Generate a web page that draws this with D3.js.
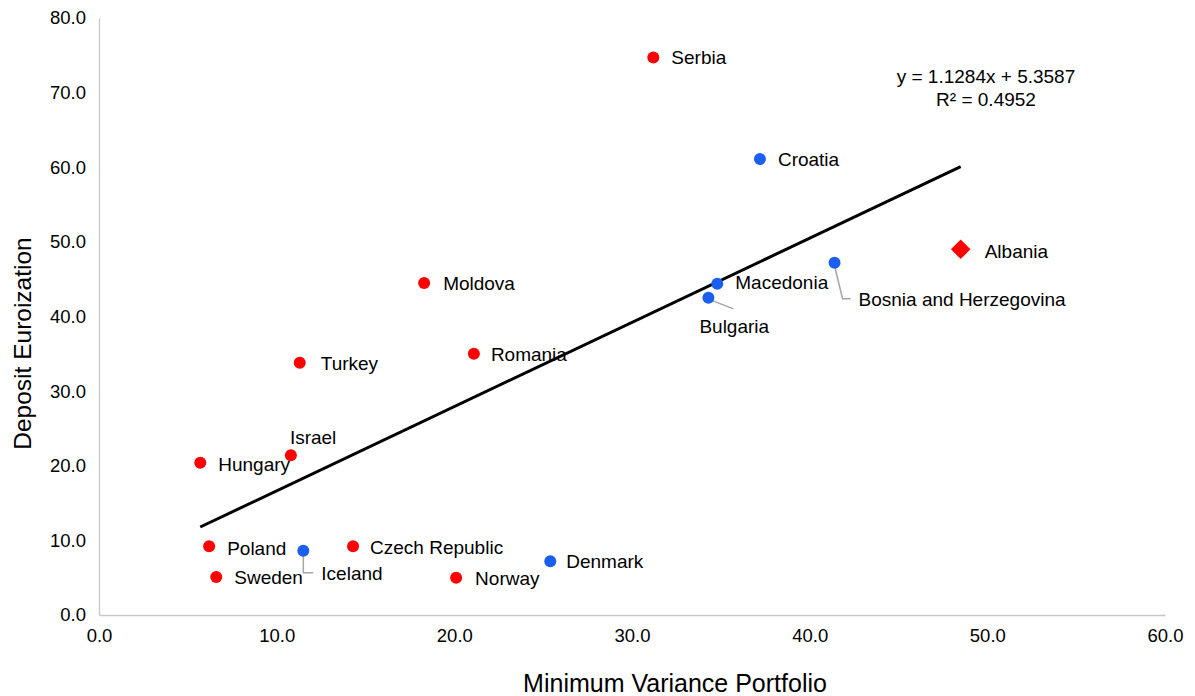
<!DOCTYPE html>
<html>
<head>
<meta charset="utf-8">
<script src="https://cdn.jsdelivr.net/npm/d3@7"></script>
<style>
  html, body { margin: 0; padding: 0; background: #fff; }
  svg { display: block; font-family: "Liberation Sans", Arial, sans-serif; }
</style>
</head>
<body>
<svg id="chart" width="1195" height="696"></svg>
<script>
// ---- Data ----
const countries = ["Serbia","Croatia","Albania","Bosnia and Herzegovina","Macedonia","Bulgaria","Moldova","Romania","Turkey","Israel","Hungary","Poland","Sweden","Iceland","Czech Republic","Norway","Denmark"];
const mvp       = [31.2, 37.2, 48.5, 41.4, 34.8, 34.3, 18.3, 21.1, 11.3, 10.8, 5.7, 6.2, 6.6, 11.5, 14.3, 20.1, 25.4];
const euroization = [74.7, 61.1, 49.0, 47.2, 44.4, 42.5, 44.5, 35.0, 33.8, 21.4, 20.4, 9.2, 5.1, 8.6, 9.2, 5.0, 7.2];
const groups    = ["red","blue","albania","blue","blue","blue","red","red","red","red","red","red","red","blue","red","red","blue"];
const xTicks = [0, 10, 20, 30, 40, 50, 60];
const yTicks = [0, 10, 20, 30, 40, 50, 60, 70, 80];
const trendSlope = 1.1284, trendIntercept = 5.3587, trendR2 = 0.4952;

// ---- Label placement (layout only) ----
const labelOffsets = {
  "Serbia": [18, 0], "Croatia": [18, 0], "Albania": [24, 2], "Bosnia and Herzegovina": [24, 37],
  "Macedonia": [18, -1], "Bulgaria": [-9, 29], "Moldova": [19, 0], "Romania": [17, 1],
  "Turkey": [21, 1], "Israel": [-1, -18], "Hungary": [18, 2], "Poland": [18, 2],
  "Sweden": [18, 0], "Iceland": [18, 23], "Czech Republic": [17, 1], "Norway": [19, 1], "Denmark": [16, 0]
};
const leaders = {
  "Iceland": [[0, 4], [0, 22], [10, 22]],
  "Bosnia and Herzegovina": [[0, 3], [8, 36], [16, 36]],
  "Bulgaria": [[2, 2], [25, 11]]
};

const colors = { red: "#ff0000", blue: "#1a5ff0", albania: "#ff0000" };

const svg = d3.select("#chart");
const x = d3.scaleLinear().domain([0, 60]).range([99, 1165]);
const y = d3.scaleLinear().domain([0, 80]).range([615, 18]);

// Axes
const xAxis = svg.append("g").attr("transform", `translate(0,${y(0)})`)
  .call(d3.axisBottom(x).tickValues(xTicks).tickFormat(d3.format(".1f")).tickSize(0).tickPadding(14));
const yAxis = svg.append("g").attr("transform", `translate(${x(0)},0)`)
  .call(d3.axisLeft(y).tickValues(yTicks).tickFormat(d3.format(".1f")).tickSize(0).tickPadding(13));
[xAxis, yAxis].forEach(a => {
  a.select(".domain").attr("stroke", "#c8c8c8").attr("stroke-width", 1.3);
  a.selectAll("text").attr("font-size", 18.5).attr("fill", "#000")
    .attr("font-family", "'Liberation Sans', Arial, sans-serif");
});
xAxis.selectAll("text").attr("dy", "0.71em");

// Axis titles
svg.append("text").attr("x", (x(0) + x(60)) / 2 + 43).attr("y", 692)
  .attr("text-anchor", "middle").attr("font-size", 25).text("Minimum Variance Portfolio");
svg.append("text").attr("transform", `translate(31,${(y(0) + y(80)) / 2 + 27}) rotate(-90)`)
  .attr("text-anchor", "middle").attr("font-size", 24.5).text("Deposit Euroization");

// Trendline
const xMin = d3.min(mvp), xMax = d3.max(mvp);
svg.append("line")
  .attr("x1", x(xMin)).attr("y1", y(trendSlope * xMin + trendIntercept))
  .attr("x2", x(xMax)).attr("y2", y(trendSlope * xMax + trendIntercept))
  .attr("stroke", "#000").attr("stroke-width", 3);

// Equation
const eq = svg.append("text").attr("text-anchor", "middle").attr("font-size", 19);
eq.append("tspan").attr("x", 986).attr("y", 83).text(`y = ${trendSlope}x + ${trendIntercept}`);
eq.append("tspan").attr("x", 986).attr("y", 106).text(`R² = ${trendR2}`);

// Data rows
const rows = countries.map((c, i) => ({ name: c, x: mvp[i], y: euroization[i], g: groups[i] }));

// Leader lines
rows.forEach(d => {
  if (!leaders[d.name]) return;
  const pts = leaders[d.name].map(p => [x(d.x) + p[0], y(d.y) + p[1]]);
  svg.append("path").attr("d", d3.line()(pts)).attr("fill", "none")
    .attr("stroke", "#a6a6a6").attr("stroke-width", 1.5);
});

// Points
rows.forEach(d => {
  if (d.g === "albania") {
    svg.append("path").attr("d", d3.symbol().type(d3.symbolSquare).size(190)())
      .attr("transform", `translate(${x(d.x)},${y(d.y)}) rotate(45)`)
      .attr("fill", colors[d.g]);
  } else {
    svg.append("circle").attr("cx", x(d.x)).attr("cy", y(d.y)).attr("r", 6)
      .attr("fill", colors[d.g]);
  }
});

// Labels
rows.forEach(d => {
  const o = labelOffsets[d.name];
  svg.append("text").attr("x", x(d.x) + o[0]).attr("y", y(d.y) + o[1])
    .attr("dy", "0.35em").attr("font-size", 19).attr("fill", "#000").text(d.name);
});
</script>
</body>
</html>
